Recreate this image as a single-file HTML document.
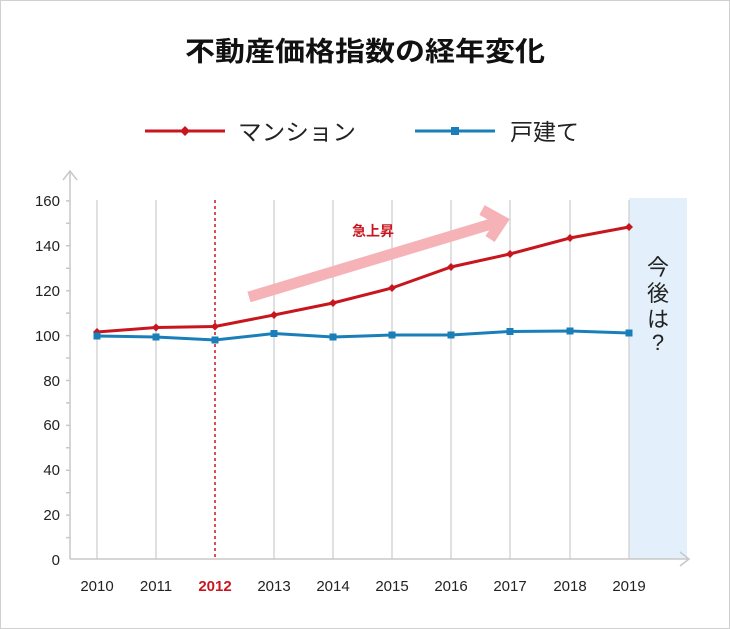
<!DOCTYPE html>
<html><head><meta charset="utf-8"><style>
body{margin:0;background:#fff}
svg{display:block}
text{font-family:"Liberation Sans","Noto Sans CJK JP",sans-serif}
</style></head><body>
<svg width="730" height="629" viewBox="0 0 730 629">
<rect x="0.5" y="0.5" width="729" height="628" fill="#fff" stroke="#d0d0d0"/>
<text x="185" y="61" font-size="27" font-weight="bold" fill="#111" textLength="360" lengthAdjust="spacingAndGlyphs">不動産価格指数の経年変化</text>
<line x1="145" y1="131" x2="225" y2="131" stroke="#c8161e" stroke-width="3"/>
<path d="M185 126 L190 131 L185 136 L180 131Z" fill="#c8161e"/>
<text x="238" y="140" font-size="23" fill="#222" textLength="118" lengthAdjust="spacingAndGlyphs">マンション</text>
<line x1="415" y1="131" x2="495" y2="131" stroke="#1a7fb8" stroke-width="3"/>
<rect x="451" y="127" width="8" height="8" fill="#1a7fb8"/>
<text x="510" y="140" font-size="23" fill="#222">戸建て</text>
<rect x="629" y="198" width="58" height="361" fill="#e3f0fb"/>
<g stroke="#d6d6d6" stroke-width="1.5">
<line x1="97" y1="200" x2="97" y2="559"/><line x1="156" y1="200" x2="156" y2="559"/>
<line x1="274" y1="200" x2="274" y2="559"/><line x1="333" y1="200" x2="333" y2="559"/>
<line x1="392" y1="200" x2="392" y2="559"/><line x1="451" y1="200" x2="451" y2="559"/>
<line x1="510" y1="200" x2="510" y2="559"/><line x1="570" y1="200" x2="570" y2="559"/>
<line x1="629" y1="200" x2="629" y2="559"/>
</g>
<g stroke="#c8c8c8" stroke-width="1.5" fill="none">
<line x1="70" y1="172" x2="70" y2="559"/><path d="M63 180 L70 171 L77 180"/>
<line x1="70" y1="559" x2="688" y2="559"/><path d="M680 552 L689 559 L680 566"/>
<path d="M66 537.6h4M66 515.1h4M66 492.7h4M66 470.2h4M66 447.8h4M66 425.4h4M66 402.9h4M66 380.5h4M66 358.0h4M66 335.6h4M66 313.1h4M66 290.7h4M66 268.2h4M66 245.8h4M66 223.3h4M66 200.9h4"/>
</g>
<line x1="215" y1="200" x2="215" y2="559" stroke="#c8161e" stroke-width="1.5" stroke-dasharray="3,3"/>
<g font-size="15" fill="#222" text-anchor="end">
<text x="60" y="206">160</text><text x="60" y="251">140</text><text x="60" y="296">120</text><text x="60" y="341">100</text><text x="60" y="386">80</text><text x="60" y="430">60</text><text x="60" y="475">40</text><text x="60" y="520">20</text><text x="60" y="565">0</text>
</g>
<g font-size="15" fill="#222" text-anchor="middle">
<text x="97" y="591">2010</text><text x="156" y="591">2011</text><text x="215" y="591" fill="#c8161e" font-weight="bold">2012</text><text x="274" y="591">2013</text><text x="333" y="591">2014</text><text x="392" y="591">2015</text><text x="451" y="591">2016</text><text x="510" y="591">2017</text><text x="570" y="591">2018</text><text x="629" y="591">2019</text>
</g>
<g stroke="#f6b3b7" stroke-width="11" fill="none">
<line x1="249" y1="297" x2="498" y2="222"/>
<path d="M482 210 L502 221 L490 239" stroke-linejoin="miter"/>
</g>
<text x="373" y="236" text-anchor="middle" font-size="14" font-weight="bold" fill="#c8161e">急上昇</text>
<polyline fill="none" stroke="#c8161e" stroke-width="3" points="97,332 156,327.5 215,326.5 274,315 333,303 392,288 451,267 510,254 570,238 629,227"/>
<g fill="#c8161e">
<path d="M97 328l4 4-4 4-4-4z M156 323.5l4 4-4 4-4-4z M215 322.5l4 4-4 4-4-4z M274 311l4 4-4 4-4-4z M333 299l4 4-4 4-4-4z M392 284l4 4-4 4-4-4z M451 263l4 4-4 4-4-4z M510 250l4 4-4 4-4-4z M570 234l4 4-4 4-4-4z M629 223l4 4-4 4-4-4z"/>
</g>
<polyline fill="none" stroke="#1a7fb8" stroke-width="3" points="97,336 156,337 215,340 274,333.5 333,337 392,335 451,335 510,331.5 570,331 629,333"/>
<g fill="#1a7fb8">
<rect x="93.5" y="332.5" width="7" height="7"/><rect x="152.5" y="333.5" width="7" height="7"/><rect x="211.5" y="336.5" width="7" height="7"/><rect x="270.5" y="330" width="7" height="7"/><rect x="329.5" y="333.5" width="7" height="7"/><rect x="388.5" y="331.5" width="7" height="7"/><rect x="447.5" y="331.5" width="7" height="7"/><rect x="506.5" y="328" width="7" height="7"/><rect x="566.5" y="327.5" width="7" height="7"/><rect x="625.5" y="329.5" width="7" height="7"/>
</g>
<g font-size="22" fill="#222" text-anchor="middle">
<text x="658" y="275">今</text><text x="658" y="301">後</text><text x="658" y="327">は</text><text x="658" y="350">?</text>
</g>
</svg>
</body></html>
